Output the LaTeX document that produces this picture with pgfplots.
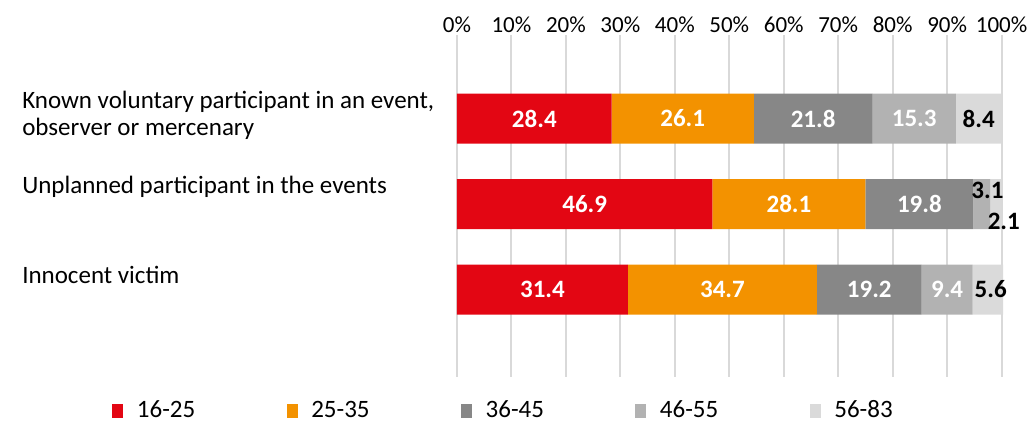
\documentclass[border=0pt]{standalone}
\usepackage{pgfplots}
\pgfplotsset{compat=1.18}
\usepackage{fontspec}
\setmainfont{Carlito}

\definecolor{agea}{HTML}{E30613}
\definecolor{ageb}{HTML}{F39200}
\definecolor{agec}{HTML}{878787}
\definecolor{aged}{HTML}{B2B2B2}
\definecolor{agee}{HTML}{DADADA}
\definecolor{gridgray}{HTML}{D9D9D9}

% centres of the segments, for the value labels
\pgfplotstableread{
x y lab
14.2 0 28.4
41.45 0 26.1
65.4 0 21.8
83.95 0 15.3
23.45 1 46.9
60.95 1 28.1
84.9 1 19.8
15.7 2 31.4
48.75 2 34.7
75.7 2 19.2
90.0 2 9.4
}\whitelabels
\pgfplotstableread{
x y lab
95.8 0 8.4
97.4 0.84 3.1
100.4 1.2 2.1
98.0 2 5.6
}\blacklabels

\pgfplotsset{frame/.style={
  at={(0,0)}, anchor=north west,
  scale only axis, width=272.3pt, height=171pt,
  xmin=0, xmax=100, ymin=-0.977, ymax=3.023, y dir=reverse,
  clip=false}}

\begin{document}
\begin{tikzpicture}
\begin{axis}[
  frame,
  xbar stacked, bar width=25pt,
  xtick={0,10,...,100},
  xticklabels={0\%,10\%,20\%,30\%,40\%,50\%,60\%,70\%,80\%,90\%,100\%},
  xticklabel pos=upper,
  xticklabel style={font=\fontsize{11.5}{13}\selectfont, anchor=base, yshift=1.5pt},
  ytick=\empty,
  xmajorgrids, major grid style={color=gridgray, line width=1pt},
  axis line style={draw=none}, major tick length=0pt,
  legend columns=5,
  legend image code/.code={\fill[#1] (0pt,-3.5pt) rectangle (5.5pt,3.5pt);},
  legend style={at={(axis cs:-63.35,3.42)}, anchor=west, draw=none, fill=none,
    inner sep=0pt, font=\fontsize{12.5}{15}\selectfont,
    /tikz/every odd column/.append style={column sep=4.8pt},
    /tikz/every even column/.append style={column sep=43.7pt}},
]
\addplot[fill=agea, draw=none] coordinates {(28.4,0) (46.9,1) (31.4,2)};
\addlegendentry{16-25}
\addplot[fill=ageb, draw=none] coordinates {(26.1,0) (28.1,1) (34.7,2)};
\addlegendentry{25-35}
\addplot[fill=agec, draw=none] coordinates {(21.8,0) (19.8,1) (19.2,2)};
\addlegendentry{36-45}
\addplot[fill=aged, draw=none] coordinates {(15.3,0) (3.1,1) (9.4,2)};
\addlegendentry{46-55}
\addplot[fill=agee, draw=none] coordinates {(8.4,0) (2.1,1) (5.6,2)};
\addlegendentry{56-83}
\end{axis}

\begin{axis}[frame, hide axis]
\addplot[only marks, mark=none,
  nodes near coords, point meta=explicit symbolic,
  every node near coord/.style={anchor=center, text=white, inner sep=0pt,
    font=\bfseries\fontsize{12.5}{15}\selectfont}]
  table[x=x, y=y, meta=lab] {\whitelabels};
\addplot[only marks, mark=none,
  nodes near coords, point meta=explicit symbolic,
  every node near coord/.style={anchor=center, text=black, inner sep=0pt,
    font=\bfseries\fontsize{12.5}{15}\selectfont}]
  table[x=x, y=y, meta=lab] {\blacklabels};

\begin{scope}[font=\fontsize{12.5}{13.4}\selectfont]
\node[anchor=base west, align=left, inner sep=0pt] at (axis cs:-79.9,0.193)
  {Known voluntary participant in an event,\\observer or mercenary};
\node[anchor=base west, inner sep=0pt] at (axis cs:-79.9,0.871)
  {Unplanned participant in the events};
\node[anchor=base west, inner sep=0pt] at (axis cs:-79.9,1.924)
  {Innocent victim};
\end{scope}
\end{axis}
\pgfresetboundingbox
\path[use as bounding box] (-228.5pt,17.5pt) rectangle (286.5pt,-194pt);
\end{tikzpicture}
\end{document}
